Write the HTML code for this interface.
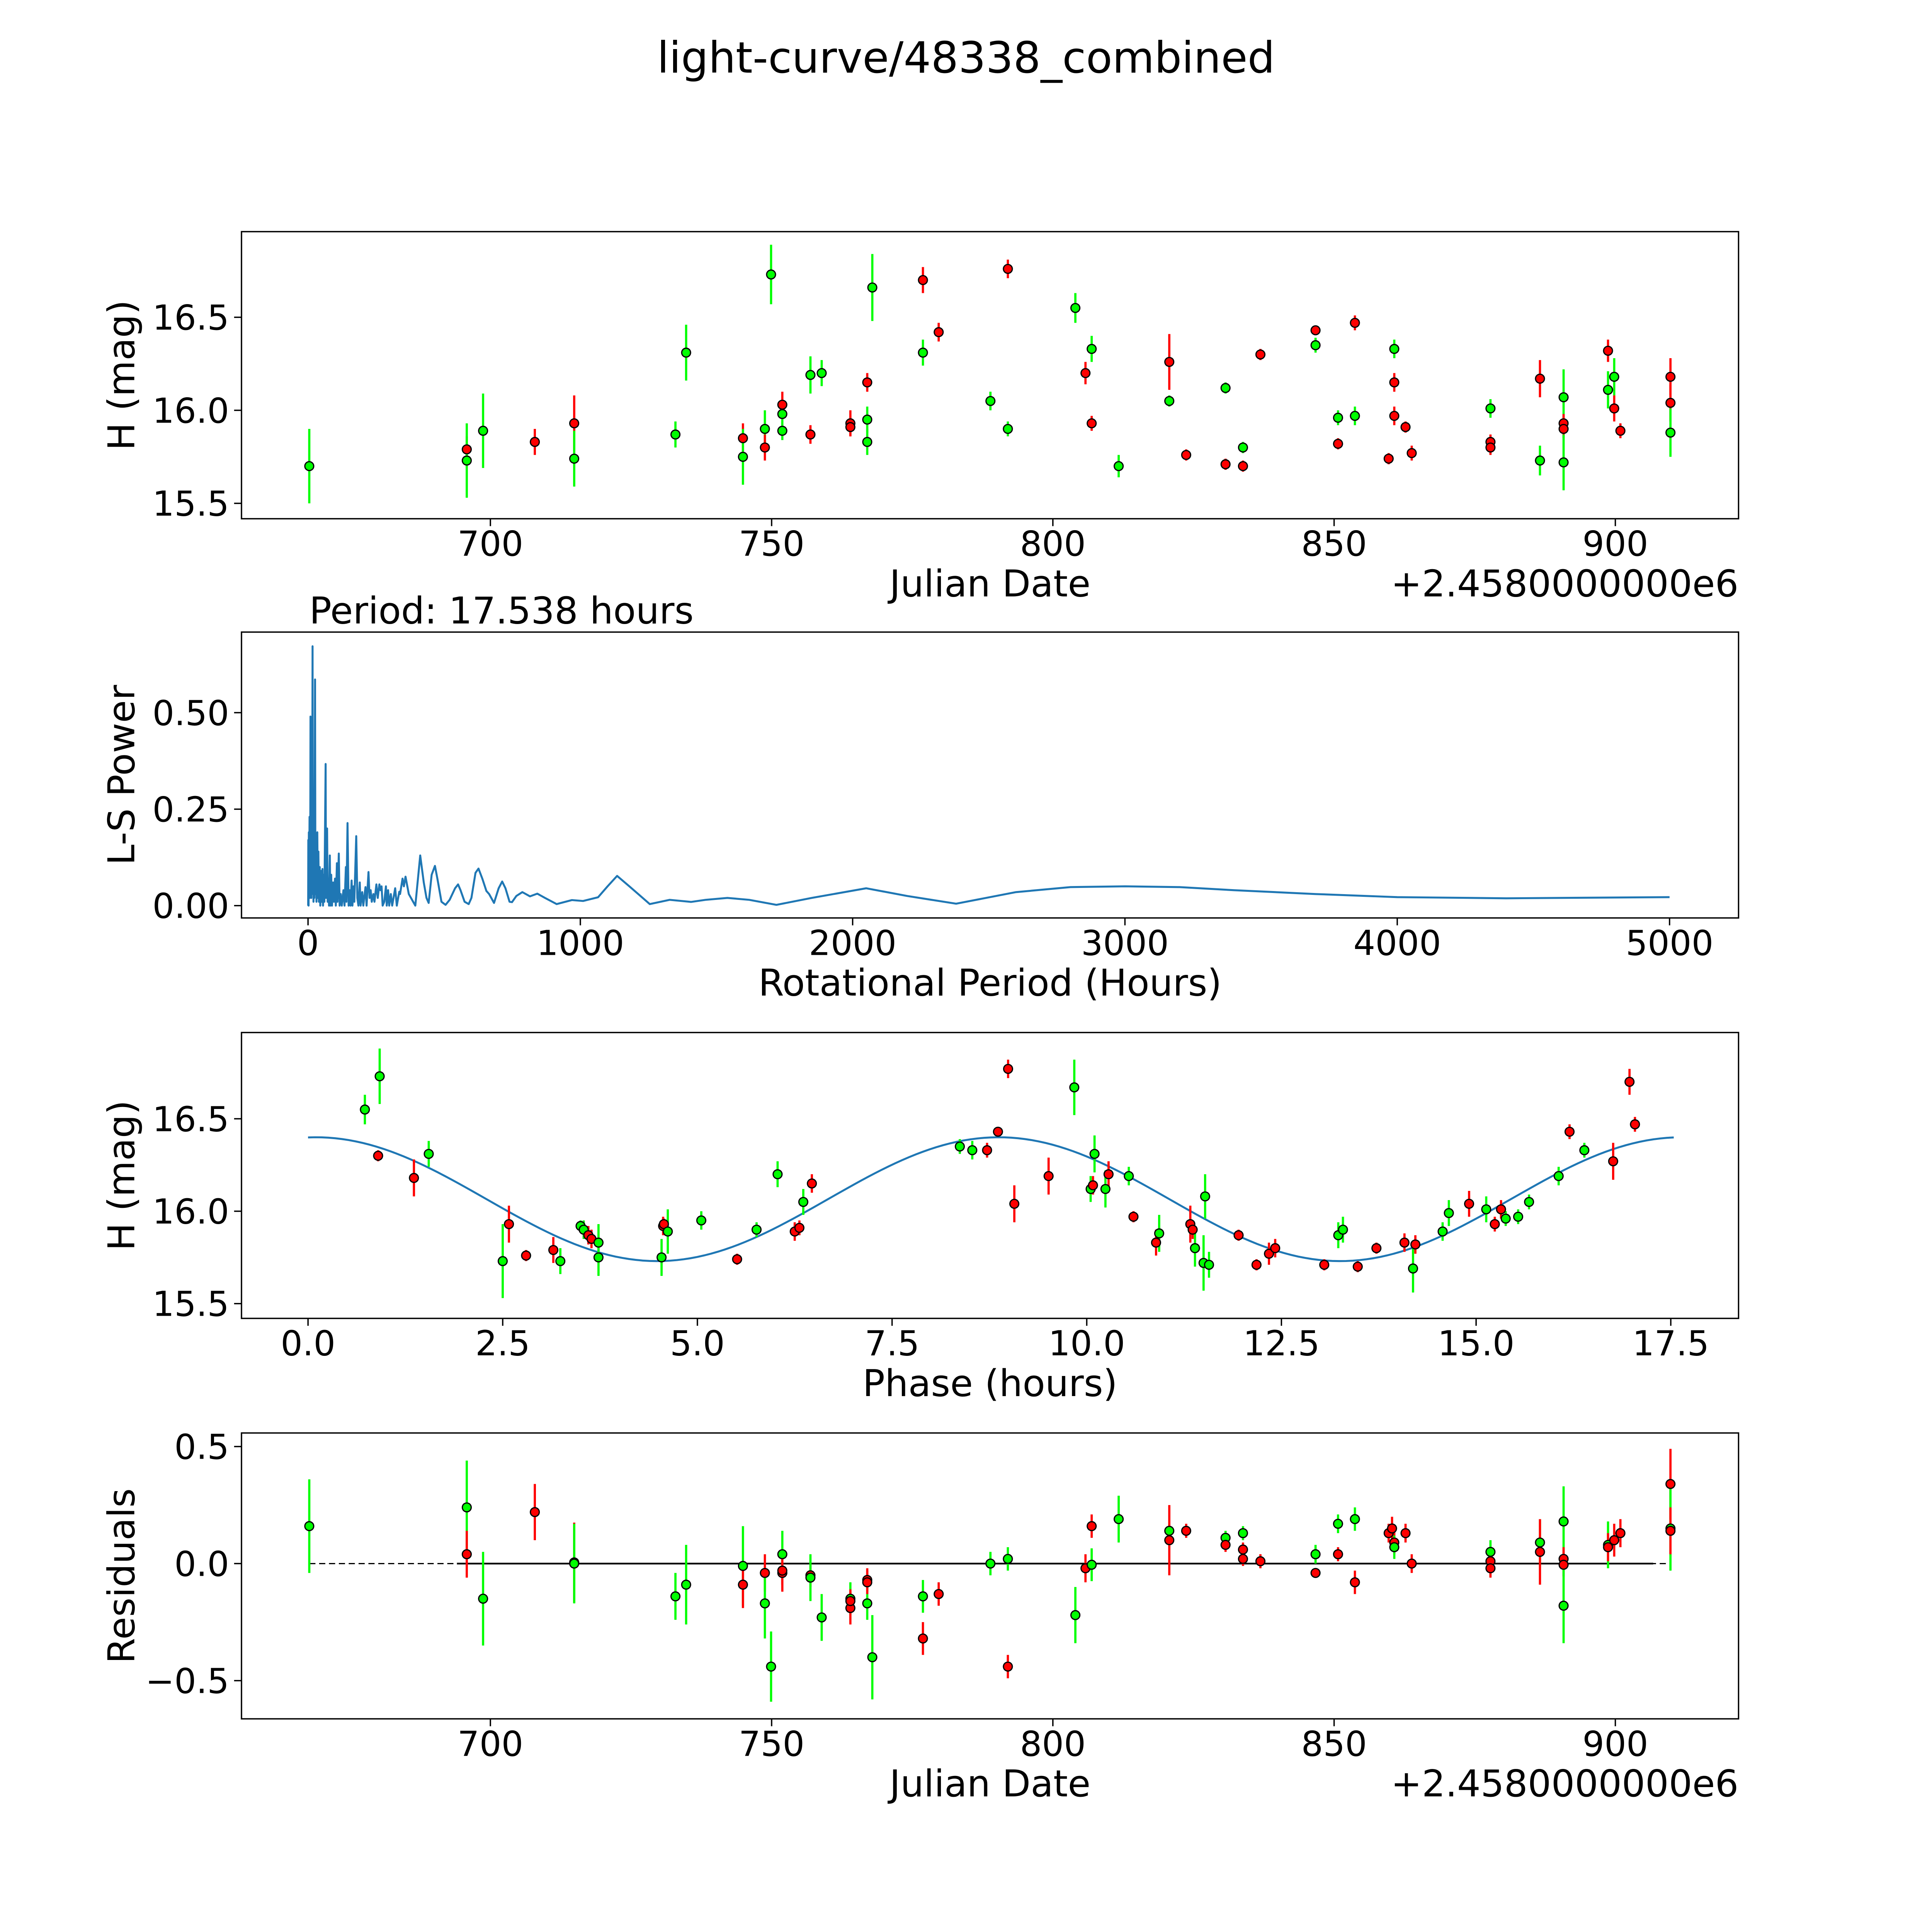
<!DOCTYPE html>
<html><head><meta charset="utf-8"><style>
html,body{margin:0;padding:0;background:#fff;overflow:hidden;width:100%;height:100%}
svg{display:block;width:100vw;height:100vh}
text{font-family:"DejaVu Sans","Liberation Sans",sans-serif;fill:#000}
</style></head><body>
<svg id="fig" xmlns="http://www.w3.org/2000/svg" viewBox="0 0 1568 1568" preserveAspectRatio="none">
<rect width="1568" height="1568" fill="#fff"/>
<text x="784" y="59" font-size="35" text-anchor="middle">light-curve/48338_combined</text>
<g id="g1"></g>
<g id="g2"></g>
<g id="g3"></g>
<g id="g4"></g>
</svg>
<script>
// ---- Panel 1: observations ----
const obsDate=[667.8,695.8,695.8,698.7,707.9,714.9,714.9,732.9,734.8,744.9,744.9,748.8,748.8,749.9,751.9,751.9,751.9,756.9,756.9,758.9,764.0,764.0,767.0,767.0,767.0,767.9,776.9,776.9,779.7,788.9,792.0,792.0,804.0,805.8,806.9,806.9,811.7,820.7,820.7,823.7,830.7,830.7,833.8,833.8,836.9,846.7,846.7,850.7,850.7,853.7,853.7,859.7,860.7,860.7,860.7,862.7,863.8,877.8,877.8,877.8,886.6,886.6,890.8,890.8,890.8,890.8,898.7,898.7,899.8,899.8,900.9,909.8,909.8,909.8];
const obsMag=[15.70,15.79,15.73,15.89,15.83,15.93,15.74,15.87,16.31,15.85,15.75,15.90,15.80,16.73,16.03,15.98,15.89,16.19,15.87,16.20,15.93,15.91,16.15,15.95,15.83,16.66,16.70,16.31,16.42,16.05,16.76,15.90,16.55,16.20,16.33,15.93,15.70,16.26,16.05,15.76,16.12,15.71,15.80,15.70,16.30,16.43,16.35,15.96,15.82,16.47,15.97,15.74,16.33,16.15,15.97,15.91,15.77,16.01,15.83,15.80,16.17,15.73,16.07,15.93,15.90,15.72,16.32,16.11,16.18,16.01,15.89,16.18,16.04,15.88];
const obsErr=[0.2,0.07,0.2,0.2,0.07,0.15,0.15,0.07,0.15,0.08,0.15,0.1,0.07,0.16,0.07,0.07,0.05,0.1,0.05,0.07,0.07,0.05,0.05,0.07,0.07,0.18,0.07,0.07,0.05,0.05,0.05,0.04,0.08,0.06,0.07,0.04,0.06,0.15,0.03,0.03,0.03,0.03,0.03,0.03,0.03,0.02,0.04,0.04,0.03,0.04,0.05,0.03,0.05,0.05,0.05,0.03,0.04,0.05,0.04,0.04,0.1,0.08,0.15,0.05,0.05,0.15,0.06,0.1,0.1,0.07,0.04,0.1,0.1,0.13];
const obsBand="grggrrgggrggrgrgggrgrrrgggrgrgrggrgrgrgrgrgrrrggrrgrgrrrrgrrrggrrgrggrrrrg";
// ---- Panel 2: periodogram ----
const lsPeriod=[0.5,1,2,3,4,5.5,6.5,8,9,10,11,12,14,15,16.6,17.5,19,20,22,23,25.8,27,29,31,34,36,38,40,43,45,48,50,53,55,58,60,64.6,66,70,72,75,77,80,82,85,88,92,95,99,102,106,108,113,116,120,124,130,134,139,141,145,149,153,156,160,163,167,170,177,181,185,190,193,199,203,211,215,222,226,230,234,240,244,251,256,262,266,270,274,280,286,289,294,298,304,309,320,326,335,338,347,352,358,370,394,412,425,435,443,454,466,475,490,505,520,540,551,560,575,590,600,615,626,640,655,665,683,700,713,725,740,749,765,787,815,842,870,913,969,1010,1065,1100,1135,1180,1255,1328,1407,1460,1540,1620,1720,1850,2050,2200,2380,2600,2800,3000,3200,3400,3700,4000,4400,5000];
const lsPower=[0,0.17,0,0.19,0.02,0.23,0.02,0.1,0.49,0.05,0.2,0.02,0.3,0.05,0.672,0.03,0.15,0.01,0.16,0.02,0.586,0.03,0.12,0.01,0.19,0.02,0.14,0.01,0.1,0,0.09,0.01,0.095,0,0.08,0.01,0.367,0.02,0.2,0.01,0.07,0,0.13,0,0.08,0,0.06,0.01,0.07,0,0.11,0.01,0.135,0,0.03,0,0.04,0,0.1,0.01,0.214,0,0.04,0,0.065,0,0.05,0.01,0.18,0.02,0,0.06,0,0.035,0,0.048,0,0.087,0.02,0.04,0.01,0.03,0.01,0.055,0.02,0.055,0.04,0.05,0,0.01,0.05,0,0.04,0,0.03,0,0.045,0,0.036,0.03,0.07,0.05,0.075,0.03,0,0.13,0.06,0.02,0.007,0.08,0.103,0.07,0.01,0.002,0.015,0.045,0.055,0.04,0.01,0.004,0.02,0.085,0.096,0.07,0.038,0.03,0.007,0.045,0.0625,0.045,0.01,0.009,0.025,0.035,0.024,0.031,0.02,0.004,0.0144,0.012,0.0216,0.05,0.077,0.05,0.004,0.015,0.0096,0.015,0.02,0.015,0.002,0.02,0.045,0.025,0.005,0.035,0.048,0.05,0.048,0.04,0.03,0.022,0.019,0.022];
// ---- Panel 3: phase folded ----
const phase=[0.73,0.92,0.90,1.36,1.55,2.5,2.58,2.8,3.15,3.24,3.5,3.54,3.6,3.64,3.73,3.73,4.54,4.56,4.57,4.62,5.05,5.51,5.76,6.03,6.25,6.31,6.36,6.47,8.37,8.53,8.72,8.86,8.99,9.07,9.51,9.84,10.05,10.08,10.1,10.24,10.28,10.54,10.6,10.89,10.93,11.33,11.36,11.39,11.5,11.52,11.57,11.95,12.18,12.34,12.42,13.05,13.23,13.29,13.48,13.72,14.08,14.19,14.22,14.57,14.65,14.91,15.13,15.24,15.32,15.38,15.54,15.68,16.06,16.2,16.39,16.76,16.97,17.04];
const phaseMag=[16.55,16.73,16.30,16.18,16.31,15.73,15.93,15.76,15.79,15.73,15.92,15.90,15.87,15.85,15.83,15.75,15.75,15.92,15.93,15.89,15.95,15.74,15.90,16.20,15.89,15.91,16.05,16.15,16.35,16.33,16.33,16.43,16.77,16.04,16.19,16.67,16.12,16.14,16.31,16.12,16.20,16.19,15.97,15.83,15.88,15.93,15.90,15.80,15.72,16.08,15.71,15.87,15.71,15.77,15.80,15.71,15.87,15.90,15.70,15.80,15.83,15.69,15.82,15.89,15.99,16.04,16.01,15.93,16.01,15.96,15.97,16.05,16.19,16.43,16.33,16.27,16.70,16.47];
const phaseErr=[0.08,0.15,0.03,0.1,0.07,0.2,0.1,0.03,0.07,0.07,0.03,0.05,0.05,0.05,0.1,0.1,0.1,0.05,0.03,0.12,0.05,0.03,0.04,0.07,0.05,0.04,0.07,0.05,0.04,0.05,0.04,0.02,0.05,0.1,0.1,0.15,0.07,0.05,0.1,0.1,0.07,0.05,0.03,0.07,0.1,0.1,0.05,0.1,0.15,0.12,0.07,0.03,0.03,0.06,0.05,0.03,0.07,0.07,0.03,0.03,0.05,0.13,0.05,0.05,0.07,0.07,0.07,0.04,0.05,0.04,0.04,0.04,0.05,0.04,0.04,0.1,0.07,0.04];
const phaseBand="ggrrggrrrgggrrgggrrggrggrrgrggrrrrrggrggrgrrgrrggggrrrrrggrrrgrggrgrrggggrgrrr";
const fitMean=[16.065], fitAmp=[0.335], fitPeriod=[17.538], fitHarm=[2];
// ---- Panel 4: residuals ----
const resDate=[667.8,695.8,695.8,698.7,707.9,714.9,714.9,732.9,734.8,744.9,744.9,748.8,748.8,749.9,751.9,751.9,751.9,756.9,756.9,758.9,764.0,764.0,764.0,767.0,767.0,767.0,767.9,776.9,776.9,779.7,788.9,792.0,792.0,804.0,805.8,806.9,806.9,811.7,820.7,820.7,823.7,830.7,830.7,833.8,833.8,833.8,836.9,846.7,846.7,850.7,850.7,853.7,853.7,859.7,860.3,860.7,860.7,862.7,863.8,877.8,877.8,877.8,886.6,886.6,890.8,890.8,890.8,890.8,898.7,898.7,899.8,900.9,909.8,909.8,909.8];
const resVal=[0.16,0.24,0.04,-0.15,0.22,0.005,0.0,-0.14,-0.09,-0.01,-0.09,-0.04,-0.17,-0.44,-0.04,0.04,-0.03,-0.05,-0.06,-0.23,-0.15,-0.19,-0.16,-0.07,-0.17,-0.08,-0.40,-0.14,-0.32,-0.13,0.0,0.02,-0.44,-0.22,-0.02,0.16,-0.005,0.19,0.14,0.10,0.14,0.11,0.08,0.13,0.06,0.02,0.01,-0.04,0.04,0.17,0.04,0.19,-0.08,0.13,0.15,0.09,0.07,0.13,0.0,0.05,0.01,-0.02,0.09,0.05,0.18,0.02,-0.005,-0.18,0.08,0.07,0.10,0.13,0.34,0.15,0.14];
const resErr=[0.2,0.2,0.1,0.2,0.12,0.17,0.17,0.1,0.17,0.17,0.1,0.08,0.15,0.15,0.08,0.1,0.06,0.05,0.1,0.1,0.07,0.07,0.05,0.05,0.07,0.05,0.18,0.07,0.07,0.05,0.05,0.05,0.05,0.12,0.06,0.05,0.07,0.1,0.03,0.15,0.03,0.03,0.03,0.03,0.03,0.03,0.03,0.02,0.04,0.04,0.03,0.05,0.05,0.04,0.05,0.05,0.05,0.04,0.04,0.05,0.04,0.04,0.1,0.14,0.15,0.05,0.05,0.16,0.1,0.06,0.07,0.06,0.15,0.18,0.1];
const resBand="ggrgrrggggrrggrgrrgggrrrgrggrrggrgrrgggrrgrgrrrrggrgrrrrgrrgrrgrgrrggrrrrgr";
// tick labels
const dateTicks=[700,750,800,850,900];
const magTicks=[15.5,16.0,16.5];
const magTickLabels=["15.5","16.0","16.5"];
const perTicks=[0,1000,2000,3000,4000,5000];
const powTicks=[0,0.25,0.5];
const powTickLabels=["0.00","0.25","0.50"];
const phTicks=[0,2.5,5,7.5,10,12.5,15,17.5];
const phTickLabels=["0.0","2.5","5.0","7.5","10.0","12.5","15.0","17.5"];
const resTicks=[-0.5,0,0.5];
const resTickLabels=["\u22120.5","0.0","0.5"];

const NS="http://www.w3.org/2000/svg";
function mk(parent,tag,attrs,txt){const e=document.createElementNS(NS,tag);for(const k in attrs)e.setAttribute(k,attrs[k]);if(txt!==undefined)e.textContent=txt;parent.appendChild(e);return e;}
function lin(d0,d1,r0,r1){return v=>r0+(v-d0)*(r1-r0)/(d1-d0);}
const COL={r:"#ff0000",g:"#00ff00"};
const L=196,R=1411;
const TF=28, LF=30;

function frame(g,top,bot,xs,ys,xt,xtl,yt,ytl,xlabel,ylabel,ylx,offset){
  const ax=mk(g,'rect',{x:L,y:top,width:R-L,height:bot-top,fill:'none',stroke:'#000','stroke-width':1.1});
  
  
  xt.forEach((v,i)=>{const x=xs(v);
    const t=mk(g,'line',{x1:x,x2:x,y1:bot,y2:bot+6,stroke:'#000','stroke-width':1.1});
    
    
    const l=mk(g,'text',{x:x,y:bot+30,'font-size':TF,'text-anchor':'middle'},xtl[i]);
    
    });
  yt.forEach((v,i)=>{const y=ys(v);
    const t=mk(g,'line',{x1:L-6,x2:L,y1:y,y2:y,stroke:'#000','stroke-width':1.1});
    
    
    const l=mk(g,'text',{x:L-10,y:y+10,'font-size':TF,'text-anchor':'end'},ytl[i]);
    
    });
  const xl=mk(g,'text',{x:(L+R)/2,y:bot+63,'font-size':LF,'text-anchor':'middle'},xlabel);
  
  
  const cy=(top+bot)/2;
  const yl=mk(g,'text',{x:ylx,y:cy,'font-size':LF,'text-anchor':'middle',transform:`rotate(-90 ${ylx} ${cy})`},ylabel);
  
  
  if(offset){const o=mk(g,'text',{x:R,y:bot+63,'font-size':LF,'text-anchor':'end'},offset);
    
    }
}
function points(g,xs,ys,X,Y,E,B){
  X.forEach((x,i)=>{const px=xs(x),c=COL[B[i]]||COL.r;
    const e=mk(g,'line',{x1:px,x2:px,y1:ys(Y[i]-E[i]),y2:ys(Y[i]+E[i]),stroke:c,'stroke-width':1.8});
    
    });
  X.forEach((x,i)=>{const c=COL[B[i]]||COL.r;
    const p=mk(g,'circle',{cx:xs(x),cy:ys(Y[i]),r:3.6,fill:c,stroke:'#000','stroke-width':1});
    
    });
}
// panel 1
{const g=document.getElementById('g1');const xs=lin(700,900,398,1311),ys=lin(16,16.5,333,257.5);
 frame(g,188,421,xs,ys,dateTicks,dateTicks.map(String),magTicks,magTickLabels,'Julian Date','H (mag)',109,'+2.4580000000e6');
 points(g,xs,ys,obsDate,obsMag,obsErr,obsBand);}
// panel 2
{const g=document.getElementById('g2');const xs=lin(0,5000,250,1355),ys=lin(0,0.25,735,656.7);
 frame(g,513,745,xs,ys,perTicks,perTicks.map(String),powTicks,powTickLabels,'Rotational Period (Hours)','L-S Power',109,null);
 const pl=mk(g,'polyline',{points:lsPeriod.map((p,i)=>xs(p).toFixed(2)+','+ys(lsPower[i]).toFixed(2)).join(' '),fill:'none',stroke:'#1f77b4','stroke-width':1.6,'stroke-linejoin':'round'});
 
 
 const t=mk(g,'text',{x:251,y:506,'font-size':LF},'Period: 17.538 hours');
 
 }
// panel 3
{const g=document.getElementById('g3');const xs=lin(0,17.5,250,1356),ys=lin(16,16.5,983,908);
 frame(g,838,1070,xs,ys,phTicks,phTickLabels,magTicks,magTickLabels,'Phase (hours)','H (mag)',109,null);
 const pts=[];for(let i=0;i<=200;i++){const ph=fitPeriod[0]*i/200;pts.push(xs(ph).toFixed(2)+','+ys(fitMean[0]+fitAmp[0]*Math.cos(2*Math.PI*fitHarm[0]*(ph-0.1)/fitPeriod[0])).toFixed(2));}
 const fl=mk(g,'polyline',{points:pts.join(' '),fill:'none',stroke:'#1f77b4','stroke-width':1.6});
 
 
 points(g,xs,ys,phase,phaseMag,phaseErr,phaseBand);}
// panel 4
{const g=document.getElementById('g4');const xs=lin(700,900,398,1311),ys=lin(0,0.5,1269,1174);
 frame(g,1163,1395,xs,ys,dateTicks,dateTicks.map(String),resTicks,resTickLabels,'Julian Date','Residuals',109,'+2.4580000000e6');
 const d=mk(g,'line',{x1:xs(resDate[0]),x2:xs(resDate[resDate.length-1]),y1:ys(0),y2:ys(0),stroke:'#000','stroke-width':1,'stroke-dasharray':'5,3'});
 
 
 const s=mk(g,'line',{x1:xs(resDate[1])-8,x2:xs(resDate[resDate.length-1])-14,y1:ys(0),y2:ys(0),stroke:'#000','stroke-width':1.4});
 
 
 points(g,xs,ys,resDate,resVal,resErr,resBand);}
</script>
</body></html>
